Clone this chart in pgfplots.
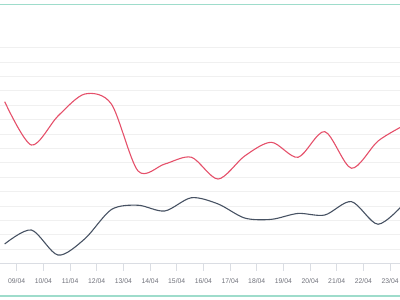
\documentclass[border=0pt]{standalone}
\usepackage{pgfplots}
\pgfplotsset{compat=1.18}
\usepackage{fontspec}
\setmainfont{Liberation Sans}
\definecolor{redline}{HTML}{E5506A}
\definecolor{darkline}{HTML}{475263}
\definecolor{tealline}{HTML}{9EDCCB}
\definecolor{gridc}{HTML}{F0F0F0}
\definecolor{axisc}{HTML}{DADDE3}
\definecolor{labelc}{HTML}{6E7079}
\begin{document}
\begin{tikzpicture}
\begin{axis}[
  scale only axis, width=400pt, height=300pt,
  at={(0,0)}, anchor=south west,
  xmin=8.374, xmax=23.372, ymin=-2.52, ymax=18.31,
  axis x line*=middle, axis y line*=left,
  y axis line style={draw=none},
  x axis line style={draw=axisc, line width=0.8pt},
  ytick={1,...,15}, yticklabels={},
  ymajorgrids, major grid style={draw=gridc, line width=0.8pt},
  y tick style={draw=none},
  xtick={9,...,23},
  xticklabels={09/04,10/04,11/04,12/04,13/04,14/04,15/04,16/04,17/04,18/04,19/04,20/04,21/04,22/04,23/04},
  x tick style={draw=axisc, line width=0.6pt},
  tick align=outside, major tick length=7pt,
  xticklabel style={font=\fontsize{6.8}{7}\selectfont, text=labelc, yshift=-4.5pt},
  extra y ticks={17.97,-2.24}, extra y tick labels={},
  extra y tick style={grid=major, major grid style={draw=tealline, line width=1.2pt}, tick style={draw=none}},
]
\addplot[redline, line width=1.1pt, smooth] coordinates {
(8.55,11.25) (9.55,8.24) (10.55,10.26) (11.55,11.78) (12.55,11.09)
(13.55,6.44) (14.55,6.92) (15.55,7.39) (16.55,5.88) (17.55,7.48)
(18.55,8.43) (19.55,7.39) (20.55,9.17) (21.55,6.63) (22.55,8.52) (23.55,9.63)
};
\addplot[darkline, line width=1.1pt, smooth] coordinates {
(8.55,1.37) (9.55,2.34) (10.55,0.60) (11.55,1.72) (12.55,3.76)
(13.55,4.06) (14.55,3.66) (15.55,4.58) (16.55,4.15) (17.55,3.17)
(18.55,3.08) (19.55,3.49) (20.55,3.38) (21.55,4.31) (22.55,2.74) (23.55,4.22)
};
\end{axis}
\pgfresetboundingbox
\useasboundingbox (0,0) rectangle (400pt,300pt);
\end{tikzpicture}
\end{document}
